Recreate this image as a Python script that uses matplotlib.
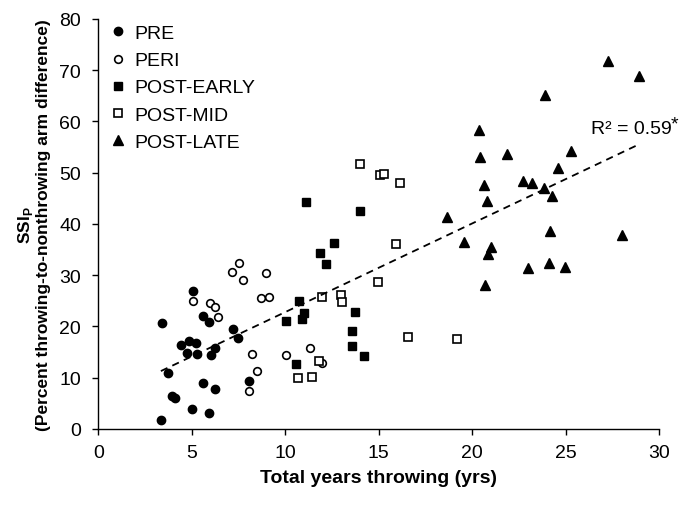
import numpy as np
import matplotlib
matplotlib.use("Agg")
import matplotlib.pyplot as plt

plt.rcParams['font.family'] = ['Liberation Sans', 'DejaVu Sans']
plt.rcParams['mathtext.fontset'] = 'custom'
plt.rcParams['mathtext.rm'] = 'Liberation Sans'
plt.rcParams['mathtext.bf'] = 'Liberation Sans:bold'

# data (years throwing, SSIp)
pre_x = [3.39, 3.34, 3.72, 3.93, 4.09, 4.43, 4.75, 4.86, 5.20, 5.06, 5.27, 5.59, 5.92,
         5.59, 5.00, 5.93, 6.00, 6.25, 6.22, 7.22, 7.47, 8.04]
pre_y = [20.6, 1.8, 10.9, 6.4, 6.0, 16.4, 14.9, 17.2, 16.8, 27.0, 14.7, 22.0, 20.8,
         9.0, 3.9, 3.1, 14.5, 15.8, 7.8, 19.5, 17.7, 9.4]

peri_x = [5.06, 5.99, 6.24, 6.42, 7.17, 7.54, 7.72, 8.99, 8.69, 9.12, 8.20, 8.47, 8.08,
          10.03, 11.30, 11.96]
peri_y = [25.0, 24.6, 23.8, 21.9, 30.7, 32.4, 29.0, 30.5, 25.6, 25.7, 14.7, 11.3, 7.5,
          14.5, 15.9, 12.9]

early_x = [11.10, 14.00, 12.62, 11.87, 12.17, 10.74, 10.98, 10.87, 10.03, 13.73, 13.57,
           13.55, 14.21, 10.56]
early_y = [44.2, 42.5, 36.3, 34.4, 32.1, 25.0, 22.7, 21.4, 21.0, 22.8, 19.1,
           16.2, 14.3, 12.6]

mid_x = [14.00, 15.07, 15.26, 16.14, 15.92, 14.96, 11.94, 12.99, 13.03, 10.69, 11.42,
         11.81, 16.59, 19.18]
mid_y = [51.8, 49.6, 49.7, 48.0, 36.0, 28.7, 25.8, 26.1, 24.7, 9.9, 10.2,
         13.3, 18.0, 17.6]

late_x = [27.27, 28.92, 23.90, 20.39, 20.43, 21.84, 25.27, 24.58, 20.64, 22.73, 23.23,
          23.84, 24.25, 20.77, 18.66, 19.55, 21.00, 20.87, 24.17, 28.04, 22.98, 24.09,
          24.97, 20.68]
late_y = [71.8, 68.8, 65.1, 58.4, 53.1, 53.6, 54.2, 50.9, 47.7, 48.4, 48.0,
          47.0, 45.5, 44.4, 41.4, 36.5, 35.6, 34.1, 38.6, 37.9, 31.5, 32.4,
          31.6, 28.1]

fig = plt.figure(figsize=(6.98, 5.06), dpi=100)
ax = fig.add_axes([0.1411, 0.1502, 0.803, 0.8103])

ms = 6
ax.plot(pre_x, pre_y, 'o', color='black', markersize=ms, label='PRE', linestyle='none')
ax.plot(peri_x, peri_y, 'o', markerfacecolor='white', markeredgecolor='black',
        markeredgewidth=1.2, markersize=ms - 0.5, label='PERI', linestyle='none')
ax.plot(early_x, early_y, 's', color='black', markersize=ms - 0.5, label='POST-EARLY', linestyle='none')
ax.plot(mid_x, mid_y, 's', markerfacecolor='white', markeredgecolor='black',
        markeredgewidth=1.2, markersize=ms - 0.5, label='POST-MID', linestyle='none')
ax.plot(late_x, late_y, '^', color='black', markersize=ms + 0.5, label='POST-LATE', linestyle='none')

# linear trend over all groups
all_x = np.array(pre_x + peri_x + early_x + mid_x + late_x)
all_y = np.array(pre_y + peri_y + early_y + mid_y + late_y)
slope, icept = np.polyfit(all_x, all_y, 1)
xs = np.array([all_x.min(), all_x.max()])
ax.plot(xs, slope * xs + icept, '--', color='black', linewidth=1.3, dashes=(4, 3))

ax.text(26.34, 57.8, 'R² = 0.59', fontsize=14, ha='left', va='baseline')
ax.text(30.62, 58.6, '*', fontsize=14, ha='left', va='baseline')

ax.set_xlim(0, 30)
ax.set_ylim(0, 80)
ax.set_xticks(range(0, 31, 5))
ax.set_yticks(range(0, 81, 10))
ax.tick_params(labelsize=14, direction='out', length=4.5, width=1)
ax.tick_params(axis='x', pad=6)
ax.tick_params(axis='y', pad=8)
for s in ['top', 'right']:
    ax.spines[s].set_visible(False)
for s in ['left', 'bottom']:
    ax.spines[s].set_linewidth(1)

ax.set_xlabel('Total years throwing (yrs)', fontsize=14, fontweight='bold', labelpad=6)
ax.set_ylabel('SSI$_\\mathbf{P}$\n(Percent throwing-to-nonthrowing arm difference)',
              fontsize=12.5, fontweight='bold', labelpad=6, linespacing=1.1)

ax.legend(loc='upper left', bbox_to_anchor=(0.0, 1.01), frameon=False, fontsize=14,
          handletextpad=0.33, labelspacing=0.49, borderaxespad=0, borderpad=0.5,
          handlelength=1.0)

fig.savefig('out.png', dpi=100)
